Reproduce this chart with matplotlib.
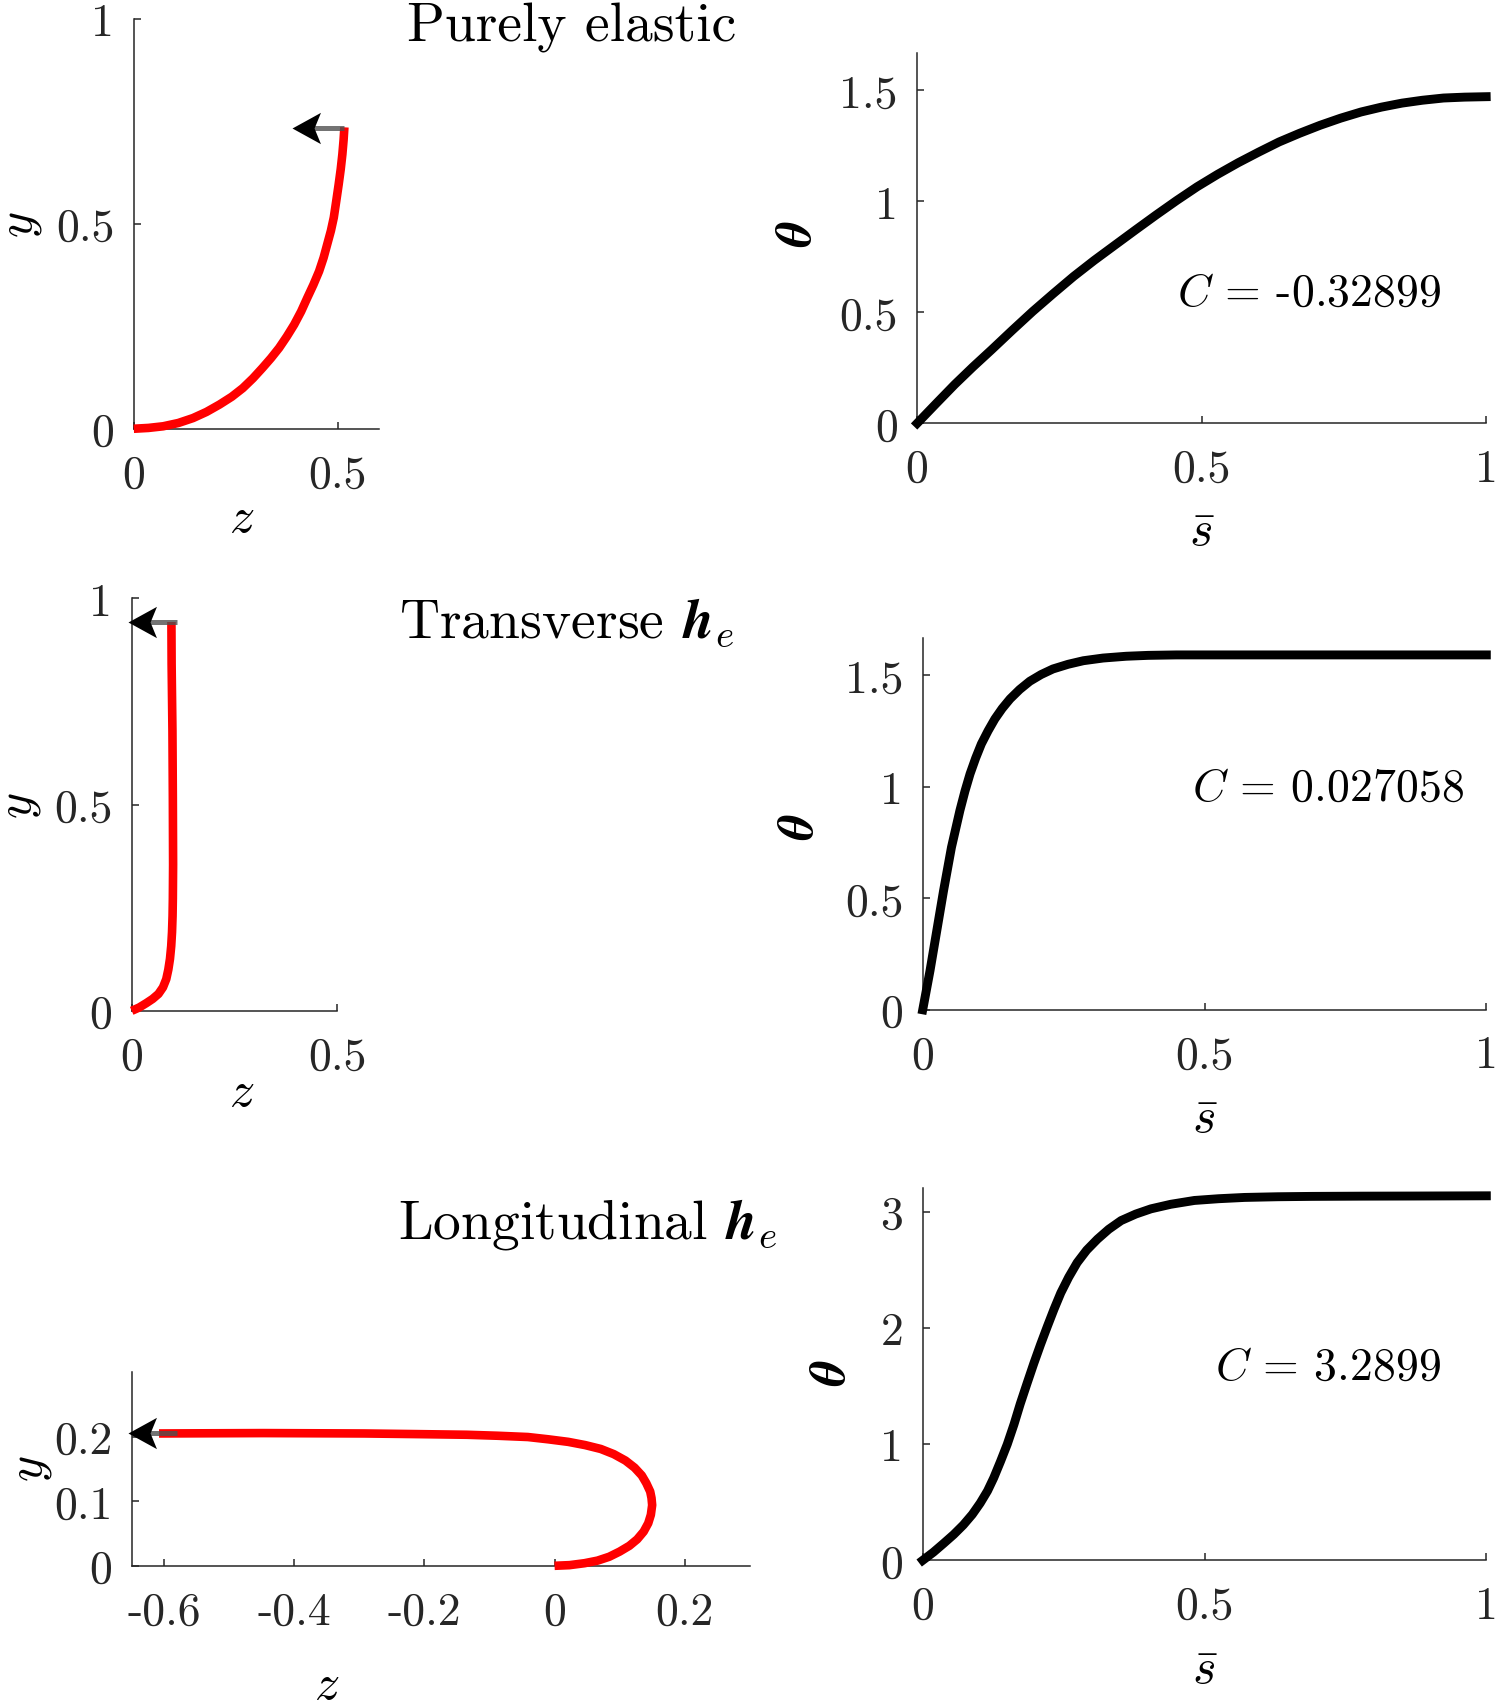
import numpy as np
import matplotlib
matplotlib.use('Agg')
import matplotlib.pyplot as plt
from matplotlib.path import Path

plt.rcParams['font.family'] = 'serif'
plt.rcParams['font.serif'] = ['cmr10']
plt.rcParams['mathtext.fontset'] = 'cm'
plt.rcParams['axes.unicode_minus'] = False
plt.rcParams['axes.formatter.use_mathtext'] = True

# ---------------- data ----------------
# beam shapes (z, y)
z_el = [0, 0.036, 0.072, 0.109, 0.145, 0.178, 0.210, 0.240, 0.267, 0.292, 0.315, 0.336, 0.356, 0.375,
        0.393, 0.410, 0.425, 0.440, 0.454, 0.465, 0.474, 0.483, 0.490, 0.496, 0.502, 0.507, 0.511, 0.514, 0.516]
y_el = [0, 0.002, 0.006, 0.014, 0.026, 0.041, 0.059, 0.078, 0.099, 0.123, 0.148, 0.172, 0.197, 0.225,
        0.254, 0.286, 0.319, 0.351, 0.384, 0.417, 0.450, 0.483, 0.515, 0.555, 0.596, 0.633, 0.669, 0.704, 0.735]

z_tr = [0, 0.018, 0.036, 0.051, 0.065, 0.076, 0.084, 0.089, 0.093, 0.096, 0.098, 0.0993, 0.100,
        0.1006, 0.1003, 0.100, 0.099, 0.097, 0.0965]
y_tr = [0, 0.008, 0.019, 0.029, 0.041, 0.057, 0.077, 0.100, 0.126, 0.157, 0.191, 0.230, 0.272,
        0.354, 0.435, 0.516, 0.679, 0.841, 0.943]

z_lo = [0, 0.023, 0.046, 0.066, 0.084, 0.100, 0.115, 0.127, 0.137, 0.144, 0.148, 0.150, 0.149, 0.147,
        0.141, 0.134, 0.123, 0.109, 0.091, 0.071, 0.047, 0.021, -0.010, -0.041, -0.088, -0.135, -0.21,
        -0.292, -0.37, -0.448, -0.53, -0.608]
y_lo = [0, 0.001, 0.004, 0.008, 0.014, 0.022, 0.031, 0.041, 0.053, 0.066, 0.079, 0.094, 0.105, 0.115,
        0.128, 0.140, 0.152, 0.163, 0.173, 0.181, 0.187, 0.192, 0.196, 0.1995, 0.2015, 0.203, 0.204,
        0.205, 0.2053, 0.2056, 0.2053, 0.205]

# end load arrows: (start z, tip z, y)
arr_el = [0.516, 0.387, 0.733]
arr_tr = [0.111, -0.008, 0.944]
arr_lo = [-0.580, -0.655, 0.206]

# theta(s)
s_el = [0, 0.033, 0.066, 0.098, 0.131, 0.167, 0.203, 0.239, 0.275, 0.311, 0.348, 0.384, 0.420, 0.456,
        0.492, 0.528, 0.564, 0.600, 0.636, 0.672, 0.708, 0.744, 0.780, 0.816, 0.852, 0.888, 0.925, 0.962, 1.0]
th_el = [0, 0.088, 0.175, 0.254, 0.332, 0.419, 0.504, 0.584, 0.662, 0.734, 0.804, 0.872, 0.939, 1.004,
         1.066, 1.122, 1.174, 1.222, 1.268, 1.307, 1.343, 1.375, 1.403, 1.425, 1.443, 1.456, 1.466, 1.470, 1.472]

s_tr = [0, 0.013, 0.025, 0.037, 0.051, 0.066, 0.075, 0.084, 0.094, 0.104, 0.116, 0.128, 0.141, 0.155,
        0.172, 0.190, 0.210, 0.231, 0.258, 0.285, 0.32, 0.361, 0.40, 0.450, 0.6, 0.8, 1.0]
th_tr = [0, 0.176, 0.355, 0.534, 0.728, 0.893, 0.98, 1.057, 1.128, 1.191, 1.250, 1.303, 1.350, 1.393,
         1.435, 1.472, 1.502, 1.527, 1.548, 1.564, 1.576, 1.584, 1.588, 1.590, 1.590, 1.590, 1.590]

s_lo = [0, 0.019, 0.037, 0.055, 0.072, 0.088, 0.102, 0.115, 0.126, 0.138, 0.150, 0.162, 0.173, 0.185,
        0.197, 0.209, 0.221, 0.233, 0.245, 0.259, 0.274, 0.291, 0.310, 0.330, 0.352, 0.378, 0.405, 0.44,
        0.482, 0.525, 0.571, 0.63, 0.690, 0.78, 0.868, 1.0]
th_lo = [0, 0.07, 0.145, 0.222, 0.304, 0.395, 0.492, 0.597, 0.709, 0.850, 0.998, 1.170, 1.345, 1.520,
         1.692, 1.855, 2.010, 2.160, 2.300, 2.435, 2.560, 2.668, 2.762, 2.847, 2.922, 2.978, 3.023, 3.062,
         3.095, 3.110, 3.121, 3.127, 3.130, 3.132, 3.133, 3.135]

C_vals = ['-0.32899', '0.027058', '3.2899']
titles = ['Purely elastic', r'Transverse $\boldsymbol{h}_e$', r'Longitudinal $\boldsymbol{h}_e$']

zt_small = [0, 0.5]
zt_small_lab = ['0', '0.5']
yt_small = [0, 0.5, 1]
yt_small_lab = ['0', '0.5', '1']
zt_lo = [-0.6, -0.4, -0.2, 0, 0.2]
zt_lo_lab = ['-0.6', '-0.4', '-0.2', '0', '0.2']
yt_lo = [0, 0.1, 0.2]
yt_lo_lab = ['0', '0.1', '0.2']
st = [0, 0.5, 1]
st_lab = ['0', '0.5', '1']
tht = [0, 0.5, 1, 1.5]
tht_lab = ['0', '0.5', '1', '1.5']
tht_lo = [0, 1, 2, 3]
tht_lo_lab = ['0', '1', '2', '3']

# ---------------- drawing ----------------
axcol = '#262626'
fs_tick = 33
fs_lab = 36

head = Path([(0, 0), (2, 1.1), (1.55, 0), (2, -1.1), (0, 0)],
            [Path.MOVETO, Path.LINETO, Path.LINETO, Path.LINETO, Path.CLOSEPOLY])


def style(ax):
    for sp in ['top', 'right']:
        ax.spines[sp].set_visible(False)
    for sp in ['left', 'bottom']:
        ax.spines[sp].set_color(axcol)
        ax.spines[sp].set_linewidth(1.1)
    ax.tick_params(direction='in', length=5, width=1.1, color=axcol,
                   labelcolor=axcol, labelsize=fs_tick)
    ax.tick_params(axis='y', pad=14)
    ax.tick_params(axis='x', pad=18)


def shape(ax, z, y, arr):
    ax.plot(z, y, color='red', lw=6.2, clip_on=False, zorder=3, solid_capstyle='butt')
    ax.plot([arr[0], arr[1] + 0.03], [arr[2], arr[2]], color='#505050', alpha=0.8,
            lw=3.6, clip_on=False, zorder=4, solid_capstyle='butt')
    ax.plot([arr[1]], [arr[2]], marker=head, markersize=41, color='black',
            markeredgewidth=0, clip_on=False, zorder=5)


fig = plt.figure(figsize=(14.95, 17.06), dpi=100)

# left column: shapes
axL1 = fig.add_axes([0.0895, 0.7481, 0.1638, 0.2404])
shape(axL1, z_el, y_el, arr_el)
axL1.set_xlim(0, 0.6)
axL1.set_ylim(0, 1)
axL1.set_xticks(zt_small, zt_small_lab)
axL1.set_yticks(yt_small, yt_small_lab)

axL2 = fig.add_axes([0.0881, 0.4069, 0.1376, 0.2417])
shape(axL2, z_tr, y_tr, arr_tr)
axL2.set_xlim(0, 0.5)
axL2.set_ylim(0, 1)
axL2.set_xticks(zt_small, zt_small_lab)
axL2.set_yticks(yt_small, yt_small_lab)

axL3 = fig.add_axes([0.0881, 0.0816, 0.4134, 0.1135])
shape(axL3, z_lo, y_lo, arr_lo)
axL3.set_xlim(-0.65, 0.3)
axL3.set_ylim(0, 0.3)
axL3.set_xticks(zt_lo, zt_lo_lab)
axL3.set_yticks(yt_lo, yt_lo_lab)

zlab_pos = [(0.44, -0.2175), (0.534, -0.198), (0.315, -0.618)]
ylab_pos = [(-0.462, 0.5), (-0.543, 0.5), (-0.163, 0.506)]
for ax, zp, yp in zip([axL1, axL2, axL3], zlab_pos, ylab_pos):
    style(ax)
    ax.set_xlabel(r'$z$', fontsize=fs_lab, va='center')
    ax.set_ylabel(r'$y$', fontsize=fs_lab, va='center')
    ax.xaxis.set_label_coords(*zp)
    ax.yaxis.set_label_coords(*yp)

# right column: theta(s)
axR1 = fig.add_axes([0.6135, 0.7513, 0.3806, 0.2168])
axR2 = fig.add_axes([0.6172, 0.4075, 0.3770, 0.2181])
axR3 = fig.add_axes([0.6172, 0.0848, 0.3770, 0.2181])

sets = [(axR1, s_el, th_el, 1.667, tht, tht_lab, (0.457, 0.588), (-0.21, 0.515)),
        (axR2, s_tr, th_tr, 1.667, tht, tht_lab, (0.477, 0.995), (-0.218, 0.494)),
        (axR3, s_lo, th_lo, 3.2, tht_lo, tht_lo_lab, (0.519, 1.664), (-0.16, 0.506))]
for k, (ax, s, th, top, yt, ytl, cpos, thpos) in enumerate(sets):
    ax.plot(s, th, color='black', lw=6.4, clip_on=False, zorder=3)
    ax.set_xlim(0, 1)
    ax.set_ylim(0, top)
    ax.set_xticks(st, st_lab)
    ax.set_yticks(yt, ytl)
    style(ax)
    ax.set_xlabel(r'$\bar{s}$', fontsize=fs_lab, va='center')
    ax.set_ylabel(r'$\boldsymbol{\theta}$', fontsize=fs_lab, va='center')
    ax.xaxis.set_label_coords(0.5, -0.294)
    ax.yaxis.set_label_coords(*thpos)
    ax.text(cpos[0], cpos[1], r'$C$ = ' + C_vals[k], fontsize=fs_tick,
            ha='left', va='center', color='black')

# row titles
title_pos = [(0.3825, 0.9835), (0.3788, 0.6352), (0.393, 0.2825)]
for t, (x, y) in zip(titles, title_pos):
    fig.text(x, y, t, fontsize=40, ha='center', va='center', color='black')

fig.savefig('out.png', dpi=100)
